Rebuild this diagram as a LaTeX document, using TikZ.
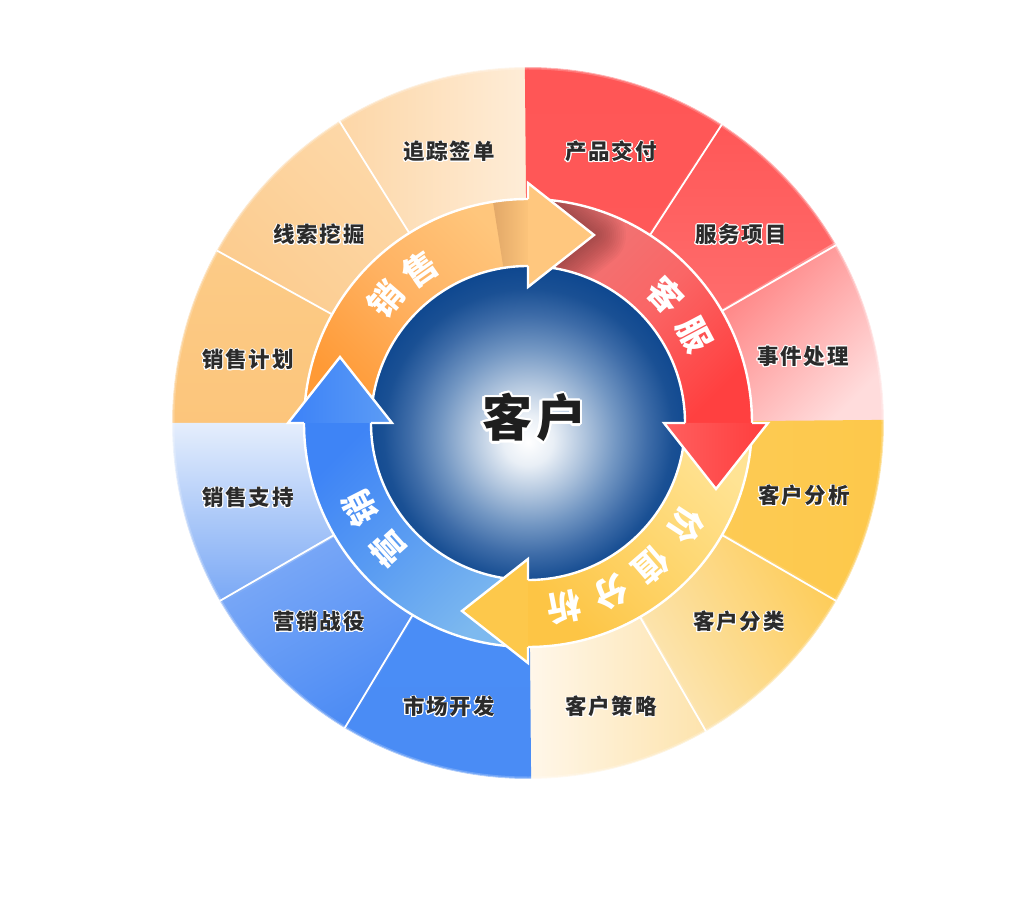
\documentclass[tikz,border=0pt]{standalone}
\usepackage{fontspec}
\usepackage[copies]{contour}
\usetikzlibrary{calc}
\newfontfamily\cjk{Noto Sans CJK SC}
\contourlength{0.8pt}

\definecolor{labelgray}{HTML}{2B2B2B}
\definecolor{hubtext}{HTML}{1E1E1E}
% outer sectors
\definecolor{zhuiA}{HTML}{FEEDD8}\definecolor{zhuiB}{HTML}{FDD6A6}
\definecolor{xianA}{HTML}{FDD9AA}\definecolor{xianB}{HTML}{FCCB8D}
\definecolor{jihuaA}{HTML}{FCCB87}\definecolor{jihuaB}{HTML}{FCC57B}
\definecolor{chanA}{HTML}{FF5656}\definecolor{chanB}{HTML}{FF5858}
\definecolor{fuA}{HTML}{FF5757}\definecolor{fuB}{HTML}{FF6E6E}
\definecolor{shiA}{HTML}{FF7A7A}\definecolor{shiB}{HTML}{FFDCDC}
\definecolor{fenxiA}{HTML}{FDC84A}\definecolor{fenxiB}{HTML}{FDCB55}
\definecolor{fenleiA}{HTML}{FDCC58}\definecolor{fenleiB}{HTML}{FCE7BA}
\definecolor{celueA}{HTML}{FFF7EA}\definecolor{celueB}{HTML}{FDE3AC}
\definecolor{shichangA}{HTML}{4A8DF6}\definecolor{shichangB}{HTML}{4A8CF5}
\definecolor{yingA}{HTML}{7FABF7}\definecolor{yingB}{HTML}{4A8AF4}
\definecolor{zhichiA}{HTML}{E5EEFC}\definecolor{zhichiB}{HTML}{78A7F5}
% ring bands and heads
\definecolor{orangeBandA}{HTML}{FFC67C}\definecolor{orangeBandM}{HTML}{FFB262}\definecolor{orangeBandB}{HTML}{FF9A36}
\definecolor{redBandA}{HTML}{EE7777}\definecolor{redBandM}{HTML}{FA6666}\definecolor{redBandB}{HTML}{FF4040}
\definecolor{yellowBandA}{HTML}{FFE394}\definecolor{yellowBandM}{HTML}{FED56C}\definecolor{yellowBandB}{HTML}{FDC545}
\definecolor{blueBandA}{HTML}{3E84F6}\definecolor{blueBandM}{HTML}{5B9DF2}\definecolor{blueBandB}{HTML}{7DB9EF}
\definecolor{orangeHead}{HTML}{FFC77E}
\definecolor{redHeadA}{HTML}{FF5F5F}\definecolor{redHeadB}{HTML}{FF3D3D}
\definecolor{yellowHead}{HTML}{FDC84B}
\definecolor{blueHeadA}{HTML}{3C82F8}\definecolor{blueHeadB}{HTML}{5C9CF5}
\definecolor{foldA}{HTML}{E2A868}\definecolor{foldB}{HTML}{FCC47B}
\definecolor{shadowred}{HTML}{5A2020}
% hub
\definecolor{ballA}{HTML}{E9EFF6}\definecolor{ballB}{HTML}{AFC4DD}
\definecolor{ballC}{HTML}{7397C3}\definecolor{ballD}{HTML}{3E6CA8}
\definecolor{ballE}{HTML}{1A5094}\definecolor{ballF}{HTML}{0F4890}
\pgfdeclareradialshading{kehuball}{\pgfpoint{0bp}{-3bp}}{color(0bp)=(white); color(4bp)=(ballA); color(9bp)=(ballB); color(14bp)=(ballC); color(19bp)=(ballD); color(23bp)=(ballE); color(26bp)=(ballF); color(50bp)=(ballF)}

\tikzset{
  sep/.style={white, line width=1.8pt},
  rim/.style={white, line width=2.4pt, line join=miter},
  orange band/.style={top color=orangeBandA, bottom color=orangeBandB, middle color=orangeBandM, shading angle=-45},
  red band/.style={top color=redBandA, bottom color=redBandB, middle color=redBandM, shading angle=45},
  yellow band/.style={top color=yellowBandA, bottom color=yellowBandB, middle color=yellowBandM, shading angle=-45},
  blue band/.style={top color=blueBandA, bottom color=blueBandB, middle color=blueBandM, shading angle=45},
  orange head/.style={fill=orangeHead},
  red head/.style={top color=redHeadA, bottom color=redHeadB, shading angle=90},
  yellow head/.style={fill=yellowHead},
  blue head/.style={top color=blueHeadA, bottom color=blueHeadB, shading angle=90},
  seglabel/.style={text=labelgray, xshift=1pt, font=\cjk\bfseries\fontsize{21.5}{24}\selectfont\addfontfeature{LetterSpace=8}},
  arctext/.style={text=white, font=\cjk\bfseries\fontsize{34}{38}\selectfont},
  hub/.style={text=hubtext, xshift=2pt, font=\cjk\bfseries\fontsize{50}{54}\selectfont\addfontfeature{LetterSpace=8}}
}

\begin{document}
\begin{tikzpicture}[x=1pt, y=1pt]
  \useasboundingbox (-528,-481) rectangle (499,423);
  % outer sectors
  \foreach \s/\e/\ca/\cb/\sa in {90/122/zhuiA/zhuiB/-90, 122/151/xianA/xianB/-45, 151/180/jihuaA/jihuaB/0,
      57/90/chanA/chanB/0, 30/57/fuA/fuB/0, 0/30/shiA/shiB/45,
      -30/0/fenxiA/fenxiB/-90, -60/-30/fenleiA/fenleiB/-60, -90/-60/celueA/celueB/90,
      239/270/shichangA/shichangB/0, 210/239/yingA/yingB/30, 180/210/zhichiA/zhichiB/0}
    \shade[top color=\ca, bottom color=\cb, shading angle=\sa] (\s:200) -- (\s:356)
      arc[start angle=\s, end angle=\e+0.5, radius=356] -- (\e+0.5:200)
      arc[start angle=\e+0.5, end angle=\s, radius=200] -- cycle;
  \foreach \a in {30,57,122,151,210,239,300,330}
    \draw[sep] (\a:224) -- (\a:356);
  % soft rim
  \foreach \w/\o in {7/0.2, 4/0.45, 1.5/0.9}
    \draw[white, opacity=\o, line width=\w] (0,0) circle[radius=357];
  % hub
  \shade[shading=kehuball] (0,0) circle[radius=157];
  % ring bands
  \foreach \b/\st in {90/orange band, 0/red band, -90/yellow band, 180/blue band}
    \path[\st] (\b+87:224) arc[start angle=\b+87, end angle=\b, radius=224] -- (\b:157)
      arc[start angle=\b, end angle=\b+87, radius=157] -- cycle;
  \shade[top color=foldA, bottom color=foldB, shading angle=90] (99:224)
    arc[start angle=99, end angle=90, radius=224] -- (90:157)
    arc[start angle=90, end angle=99, radius=157] -- cycle;
  \begin{scope}
    \clip (90:224) arc[start angle=90, end angle=40, radius=224] -- (40:157)
      arc[start angle=40, end angle=90, radius=157] -- cycle;
    \foreach \w in {4,8,...,64}
      \draw[shadowred, opacity=0.035, line width=\w, line join=round]
        (90:136) -- ($(90:188)+(0:66)$) -- (90:240);
  \end{scope}
  \foreach \b in {90,0,-90,180} {
    \draw[rim] (\b+87:224) arc[start angle=\b+87, end angle=\b, radius=224];
    \draw[rim] (\b+87:157) arc[start angle=\b+87, end angle=\b, radius=157];
  }
  % heads
  \foreach \b/\st in {90/orange head, 0/red head, -90/yellow head, 180/blue head} {
    \coordinate (tip\b) at ($(\b:188)+(\b-90:66)$);
    \path[\st] (\b:157) -- (\b:136) -- (tip\b) -- (\b:240) -- (\b:224) -- cycle;
    \draw[rim] (\b:224) -- (\b:240) -- (tip\b) -- (\b:136) -- (\b:157);
  }
  % ring words
  \foreach \t/\a [count=\i] in {销/139, 售/125, 客/43, 服/28, 价/-33, 值/-49, 分/-64, 析/-79, 营/222, 销/207}
    \node[arctext, rotate=\a-90] (ring\i) at (\a:188) {\t};
  % sector labels
  \foreach \x/\y/\t [count=\i] in {-80/271/追踪签单, 82/271/产品交付, 212/188/服务项目, 274/66/事件处理,
      275/-73/客户分析, 210/-199/客户分类, 82/-284/客户策略, -80/-284/市场开发,
      -210/-199/营销战役, -281/-75/销售支持, -281/63/销售计划, -210/188/线索挖掘}
    \node[seglabel] (seg\i) at (\x,\y) {\contour{white}{\t}};
  \node[hub] (hub) at (4,4) {\contourlength{2.5pt}\contour{white}{客户}};
\end{tikzpicture}
\end{document}
